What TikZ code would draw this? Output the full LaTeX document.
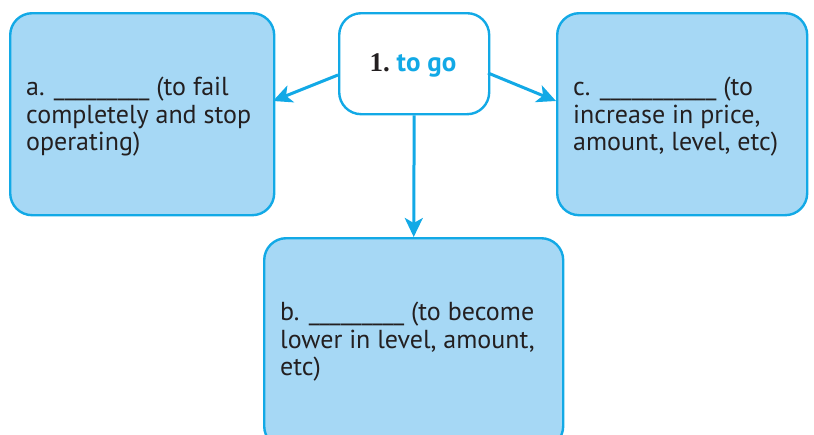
\documentclass[tikz,border=0pt]{standalone}
\usepackage{fontspec}
\setmainfont{PT Sans}
\newfontfamily\numfont{Liberation Serif}
\usetikzlibrary{arrows.meta}
\definecolor{edgeblue}{HTML}{12A9E6}
\definecolor{fillblue}{HTML}{A6D8F5}
\definecolor{inkgray}{HTML}{231F20}
\tikzset{
  box/.style={draw=edgeblue, line width=2.4pt, rounded corners=22pt, fill=fillblue},
  hub/.style={draw=edgeblue, line width=2.4pt, rounded corners=22pt, fill=white},
  boxtext/.style={text=inkgray, align=left, anchor=north west, inner sep=0pt,
    font=\fontsize{26}{27.5}\selectfont},
  link/.style={draw=edgeblue, line width=3pt, -{Stealth[length=19pt, width=18pt, inset=5pt]}}
}
\begin{document}
\begin{tikzpicture}[x=1pt, y=-1pt]
  \useasboundingbox (0,0) rectangle (814,434);
  % term boxes
  \node[box, minimum width=264pt, minimum height=202pt, anchor=north west] (a) at (9,12) {};
  \node[box, minimum width=250pt, minimum height=202pt, anchor=north west] (c) at (556,12) {};
  \node[box, minimum width=299pt, minimum height=210pt, anchor=north west] (b) at (263,237) {};
  % central word
  \node[hub, minimum width=150pt, minimum height=101pt, anchor=north west] (hub) at (338,12) {};
  \node[inner sep=0pt] (hubtext) at (413,65)
    {\fontsize{27}{30}\selectfont\numfont\bfseries\color{inkgray}1.\ \fontspec{PT Sans Bold}\color{edgeblue}to go};
  % definitions
  \node[boxtext] (ta) at (26,77) {a. \_\_\_\_\_\_\_\_\_ (to fail\\completely and stop\\operating)};
  \node[boxtext] (tc) at (573,77) {c. \_\_\_\_\_\_\_\_\_\_\_ (to\\increase in price,\\amount, level, etc)};
  \node[boxtext] (tb) at (280,302) {b. \_\_\_\_\_\_\_\_\_ (to become\\lower in level, amount,\\etc)};
  % connectors
  \coordinate (hl) at (338,75);
  \coordinate (hr) at (488,73);
  \coordinate (al) at (273,101);
  \coordinate (cl) at (556,101);
  \draw[link] (hl) -- (al);
  \draw[link] (hr) -- (cl);
  \draw[link] (hub.south) -- (b.north);
\end{tikzpicture}
\end{document}
